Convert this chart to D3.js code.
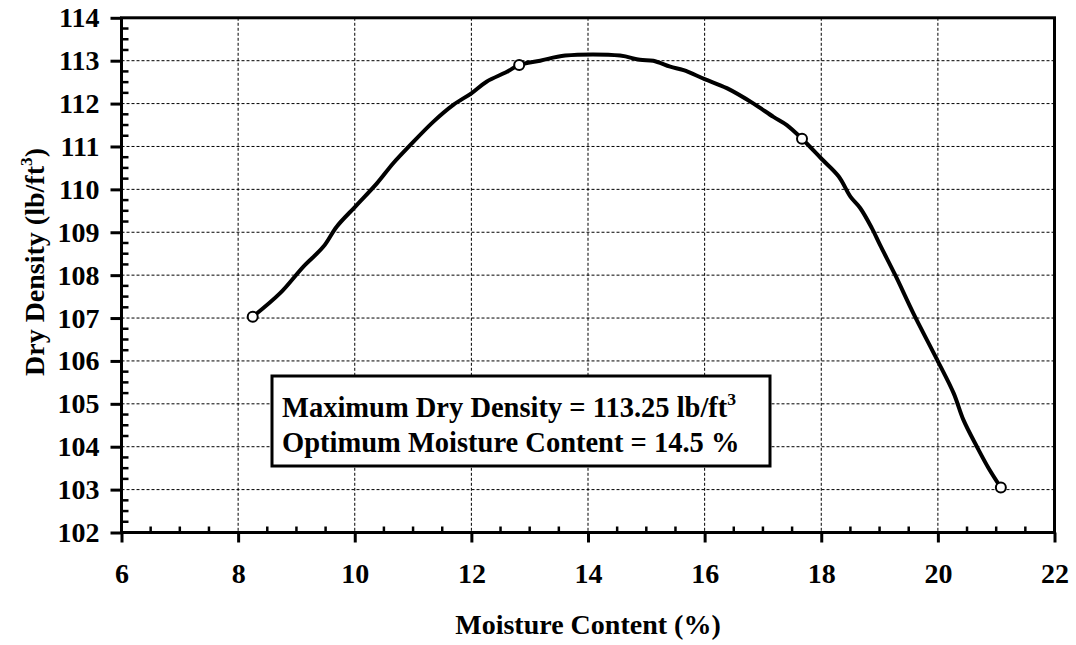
<!DOCTYPE html>
<html>
<head>
<meta charset="utf-8">
<script src="https://cdn.jsdelivr.net/npm/d3@7"></script>
<style>
  html, body { margin: 0; padding: 0; background: #fff; }
  svg { display: block; }
  text { font-family: "Liberation Serif", "Times New Roman", serif; font-weight: bold; fill: #000; }
</style>
</head>
<body>
<svg id="chart" width="1076" height="645"></svg>
<script>
// ---- Data ----
const curveX = [8.25, 8.72, 9.12, 9.46, 9.69, 10.01, 10.38, 10.66, 10.95, 11.35, 11.69, 12.0, 12.26, 12.61, 12.82, 13.18, 13.61, 14.55, 14.89, 15.12, 15.41, 15.64, 16.0, 16.38, 16.84, 17.18, 17.41, 17.67, 18.0, 18.30, 18.50, 18.67, 18.87, 19.01, 19.27, 19.58, 19.99, 20.27, 20.44, 20.67, 20.87, 21.08];
const curveY = [107.03, 107.58, 108.20, 108.66, 109.13, 109.60, 110.14, 110.61, 111.03, 111.58, 111.97, 112.24, 112.51, 112.74, 112.90, 113.0, 113.12, 113.12, 113.02, 113.0, 112.86, 112.78, 112.57, 112.36, 112.0, 111.69, 111.5, 111.18, 110.72, 110.30, 109.83, 109.56, 109.09, 108.70, 108.0, 107.11, 106.02, 105.25, 104.62, 104.0, 103.50, 103.05];
const testX = [8.25, 12.82, 17.67, 21.08];
const testY = [107.03, 112.90, 111.18, 103.05];
const xTicks = [6, 8, 10, 12, 14, 16, 18, 20, 22];
const yTicks = [102, 103, 104, 105, 106, 107, 108, 109, 110, 111, 112, 113, 114];
const xDomain = [6, 22];
const yDomain = [102, 114];
const xTitle = "Moisture Content (%)";
const yTitle = "Dry Density (lb/ft";
const noteLines = ["Maximum Dry Density = 113.25 lb/ft", "Optimum Moisture Content = 14.5 %"];

// ---- Layout ----
const svg = d3.select("#chart");
const L = 121.5, R = 1054.5, T = 17.8, B = 532.5;
const x = d3.scaleLinear().domain(xDomain).range([L, R]);
const y = d3.scaleLinear().domain(yDomain).range([B, T]);
const fs = 28;

// grid
const grid = svg.append("g");
grid.selectAll(".gx").data(xTicks.slice(1, -1)).enter().append("line")
  .attr("x1", d => x(d)).attr("x2", d => x(d)).attr("y1", T).attr("y2", B)
  .attr("stroke", "#000").attr("stroke-width", 1).attr("stroke-dasharray", "3,2");
grid.selectAll(".gy").data(yTicks.slice(1, -1)).enter().append("line")
  .attr("x1", L).attr("x2", R).attr("y1", d => y(d)).attr("y2", d => y(d))
  .attr("stroke", "#000").attr("stroke-width", 1).attr("stroke-dasharray", "3,2");

// minor ticks
const xMinor = d3.range(xDomain[0], xDomain[1] + 0.001, 0.5).filter(v => Math.abs(v % 2) > 0.01);
const yMinor = d3.range(yDomain[0], yDomain[1] + 0.001, 0.25).filter(v => Math.abs(v % 1) > 0.01);

// axes via d3
const xAxis = d3.axisBottom(x).tickValues(xTicks).tickSize(10).tickPadding(21).tickFormat(d3.format("d"));
const gx = svg.append("g").attr("transform", `translate(0,${B})`).call(xAxis);
gx.select(".domain").remove();
gx.selectAll("line").attr("stroke", "#000").attr("stroke-width", 3);
gx.selectAll("text").attr("font-size", fs).style("font-family", '"Liberation Serif", serif').style("font-weight", "bold");

const yAxis = d3.axisLeft(y).tickValues(yTicks).tickSize(11).tickPadding(11).tickFormat(d3.format("d"));
const gy = svg.append("g").attr("transform", `translate(${L},0)`).call(yAxis);
gy.select(".domain").remove();
gy.selectAll("line").attr("stroke", "#000").attr("stroke-width", 3);
gy.selectAll("text").attr("font-size", fs).style("font-family", '"Liberation Serif", serif').style("font-weight", "bold");

svg.append("g").selectAll("line").data(xMinor).enter().append("line")
  .attr("x1", d => x(d)).attr("x2", d => x(d)).attr("y1", B).attr("y2", B - 6)
  .attr("stroke", "#000").attr("stroke-width", 2.5);
svg.append("g").selectAll("line").data(yMinor).enter().append("line")
  .attr("x1", L).attr("x2", L + 7).attr("y1", d => y(d)).attr("y2", d => y(d))
  .attr("stroke", "#000").attr("stroke-width", 2.5);

// frame
svg.append("rect").attr("x", L).attr("y", T).attr("width", R - L).attr("height", B - T)
  .attr("fill", "none").attr("stroke", "#000").attr("stroke-width", 3);

// curve
const pts = curveX.map((v, i) => [v, curveY[i]]);
const line = d3.line().x(d => x(d[0])).y(d => y(d[1])).curve(d3.curveCatmullRom.alpha(0.5));
svg.append("path").datum(pts).attr("d", line)
  .attr("fill", "none").attr("stroke", "#000").attr("stroke-width", 4).attr("stroke-linejoin", "round");

// test points
svg.append("g").selectAll("circle").data(testX.map((v, i) => [v, testY[i]])).enter().append("circle")
  .attr("cx", d => x(d[0])).attr("cy", d => y(d[1])).attr("r", 5)
  .attr("fill", "#fff").attr("stroke", "#000").attr("stroke-width", 2);

// note box
const bx = 272, by = 376, bw = 498, bh = 90;
const nfs = 28.5;
svg.append("rect").attr("x", bx).attr("y", by).attr("width", bw).attr("height", bh)
  .attr("fill", "#fff").attr("stroke", "#000").attr("stroke-width", 3);
const t1 = svg.append("text").attr("x", bx + 10).attr("y", by + 41).attr("font-size", nfs);
t1.append("tspan").text(noteLines[0]);
t1.append("tspan").attr("font-size", nfs * 0.62).attr("dy", -12).text("3");
svg.append("text").attr("x", bx + 10).attr("y", by + 76).attr("font-size", nfs).text(noteLines[1]);

// axis titles
svg.append("text").attr("x", (L + R) / 2).attr("y", 634).attr("text-anchor", "middle")
  .attr("font-size", fs).text(xTitle);
const yt = svg.append("text").attr("transform", `translate(44,262) rotate(-90)`)
  .attr("text-anchor", "middle").attr("font-size", fs);
yt.append("tspan").text(yTitle);
yt.append("tspan").attr("font-size", fs * 0.62).attr("dy", -12).text("3");
yt.append("tspan").attr("font-size", fs).attr("dy", 12).text(")");
</script>
</body>
</html>
